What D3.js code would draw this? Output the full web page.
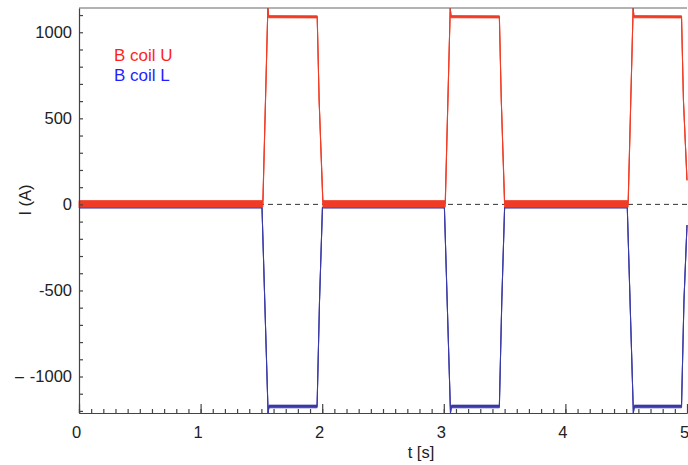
<!DOCTYPE html>
<html>
<head>
<meta charset="utf-8">
<script src="https://cdn.jsdelivr.net/npm/d3@7"></script>
<style>
  body { margin: 0; background: #fff; }
  text { font-family: "Liberation Sans", Arial, sans-serif; fill: #222; }
</style>
</head>
<body>
<div id="chart"></div>
<script>
// coil U (red) - key points of the trace, with the noise band low/high
var tU  = [0, 1.512, 1.553, 1.560, 1.959, 1.975, 2.006, 3.012, 3.053, 3.060, 3.457, 3.473, 3.500, 4.516, 4.557, 4.564, 4.955, 4.971, 5.0];
var uLo = [-16, -16, 1140, 1084, 1083, 600, -16, -16, 1140, 1084, 1083, 600, -16, -16, 1140, 1084, 1083, 600, 140];
var uHi = [22, 22, 1140, 1097, 1096, 600, 22, 22, 1140, 1097, 1096, 600, 22, 22, 1140, 1097, 1096, 600, 140];

// coil L (blue)
var tL  = [0, 1.505, 1.555, 1.562, 1.958, 1.978, 2.002, 3.005, 3.055, 3.062, 3.457, 3.477, 3.500, 4.509, 4.559, 4.566, 4.955, 4.975, 5.0];
var lLo = [-21, -21, -1212, -1182, -1182, -560, -21, -21, -1212, -1182, -1182, -560, -21, -21, -1212, -1182, -1182, -560, -120];
var lHi = [-17, -17, -1212, -1166, -1166, -560, -17, -17, -1212, -1166, -1166, -560, -17, -17, -1212, -1166, -1166, -560, -120];

var xMajor = [0, 1, 2, 3, 4, 5];
var yMajor = [-1000, -500, 0, 500, 1000];
var legendNames = ["B coil U", "B coil L"];

var W = 688, H = 465;
var margin = {top: 8, right: 1, bottom: 52, left: 79};
var width = W - margin.left - margin.right,
    height = H - margin.top - margin.bottom;

var svg = d3.select("#chart")
            .append("svg")
            .attr("width", W)
            .attr("height", H);

var g = svg.append("g")
    .attr("transform", "translate(" + margin.left + "," + margin.top + ")");

var x = d3.scaleLinear().domain([0, 5]).range([0, width]);
var y = d3.scaleLinear().domain([-1212, 1141]).range([height, 0]);

// zero line, dashed
g.append("line")
  .attr("x1", 0).attr("x2", width)
  .attr("y1", y(0)).attr("y2", y(0))
  .style("stroke", "#333")
  .style("stroke-width", 1)
  .style("stroke-dasharray", "5,4");

function band(t, lo, hi) {
  return t.map(function(d, i) { return {t: d, lo: lo[i], hi: hi[i]}; });
}
var dataU = band(tU, uLo, uHi),
    dataL = band(tL, lLo, lHi);

var area = d3.area()
    .x(function(d) { return x(d.t); })
    .y0(function(d) { return y(d.lo); })
    .y1(function(d) { return y(d.hi); });
var line = d3.line()
    .x(function(d) { return x(d.t); })
    .y(function(d) { return y((d.lo + d.hi) / 2); });

var colL = "#3a3aa6", colU = "#f03c26";

[[dataL, colL], [dataU, colU]].forEach(function(s) {
  g.append("path").datum(s[0])
    .attr("d", area)
    .style("fill", s[1])
    .style("stroke", s[1])
    .style("stroke-width", 0.8);
  g.append("path").datum(s[0])
    .attr("d", line)
    .style("fill", "none")
    .style("stroke", s[1])
    .style("stroke-width", 1.1);
});

// top border
g.append("line")
  .attr("x1", 0).attr("x2", width)
  .attr("y1", 0).attr("y2", 0)
  .style("stroke", "#666").style("stroke-width", 1.2);

// x axis: minor ticks then major with labels
var xMinor = d3.range(0, 50).map(function(i) { return i / 10; });
g.append("g")
  .attr("transform", "translate(0," + height + ")")
  .call(d3.axisBottom(x).tickValues(xMinor).tickSize(-4).tickSizeOuter(0).tickFormat(""));
g.append("g")
  .attr("class", "xmaj")
  .attr("transform", "translate(0," + height + ")")
  .call(d3.axisBottom(x).tickValues(xMajor).tickSize(-9).tickSizeOuter(0).tickPadding(13).tickFormat(d3.format("d")));
g.selectAll(".xmaj .tick text").attr("dx", "-3");

// y axis: ticks every 100, labels at 500s
var yTicks = d3.range(-1200, 1101, 100);
g.append("g")
  .attr("class", "yax")
  .call(d3.axisLeft(y).tickValues(yTicks).tickSize(-4).tickSizeOuter(0).tickPadding(7)
        .tickFormat(function(d) { return yMajor.indexOf(d) >= 0 ? d : ""; }));

g.selectAll(".domain, .tick line").style("stroke", "#444").style("stroke-width", 1.2);
g.selectAll(".tick text").style("font-size", "16.5px").style("fill", "#222")
  .style("font-family", "'Liberation Sans', Arial, sans-serif");

// stray dash before -1000 in the original
svg.append("text")
  .attr("x", 15).attr("y", margin.top + y(-1000) + 5)
  .style("font-size", "16px")
  .text("\u2013");

// axis titles
svg.append("text")
  .attr("x", 421).attr("y", 458)
  .attr("text-anchor", "middle")
  .style("font-size", "16.5px")
  .text("t [s]");
svg.append("text")
  .attr("transform", "translate(31,200) rotate(-90)")
  .attr("text-anchor", "middle")
  .style("font-size", "16.5px")
  .text("I (A)");

// legend
var legCol = ["#ff1f1f", "#1f1fff"];
svg.selectAll(".leg")
  .data(legendNames)
  .enter()
  .append("text")
  .attr("x", 114)
  .attr("y", function(d, i) { return 61 + i * 20; })
  .style("font-size", "17px")
  .style("fill", function(d, i) { return legCol[i]; })
  .text(function(d) { return d; });
</script>
</body>
</html>
